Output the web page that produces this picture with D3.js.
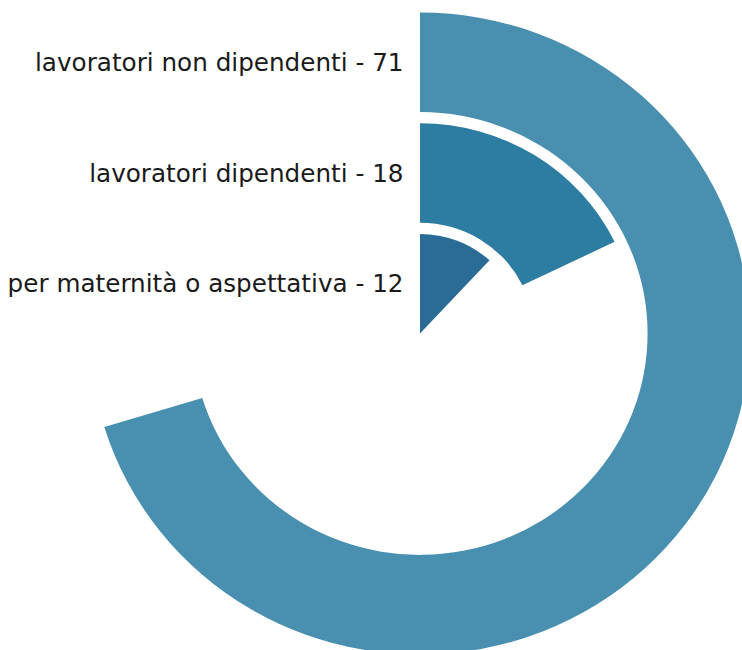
<!DOCTYPE html>
<html>
<head>
<meta charset="utf-8">
<script src="https://cdn.jsdelivr.net/npm/d3@7"></script>
<style>
  html, body { margin: 0; padding: 0; background: #fff; }
  svg { display: block; }
</style>
</head>
<body>
<div id="chart"></div>
<script>
// Radial bar chart - one ring per category, full circle = total
const categories = ["lavoratori non dipendenti", "lavoratori dipendenti", "per maternità o aspettativa"]
const values = [71, 18, 12]
const colors = ["#4990b0", "#2d7ca1", "#2b6c96"]

const width = 742
const height = 650
const cx = 420
const cy = 333.5
const outer = 321
const stretch = 1.028

const svg = d3.select("#chart")
  .append("svg")
  .attr("width", width)
  .attr("height", height)

const g = svg.append("g")
  .attr("transform", `translate(${cx},${cy}) scale(${stretch},1)`)

const total = d3.sum(values)

// outermost ring is the first category
const r = d3.scaleBand()
  .domain(categories.slice().reverse())
  .range([0, outer])
  .paddingInner(0.1)

const angle = d3.scaleLinear()
  .domain([0, total])
  .range([0, 2 * Math.PI])

const arc = d3.arc()
  .innerRadius(d => r(d.cat))
  .outerRadius(d => r(d.cat) + r.bandwidth())
  .startAngle(0)
  .endAngle(d => angle(d.value))

const data = categories.map((cat, i) => ({ cat, value: values[i], color: colors[i] }))

g.selectAll("path.bar")
  .data(data)
  .join("path")
  .attr("class", "bar")
  .attr("d", arc)
  .attr("fill", d => d.color)

// Labels left of the start line
g.selectAll("text.label")
  .data(data)
  .join("text")
  .attr("class", "label")
  .attr("x", -16)
  .attr("y", d => -(r(d.cat) + r.bandwidth() / 2))
  .attr("dy", "0.36em")
  .attr("text-anchor", "end")
  .attr("font-family", "DejaVu Sans, sans-serif")
  .attr("font-size", "24px")
  .attr("fill", "#1a1a1a")
  .text(d => `${d.cat} - ${d.value}`)
</script>
</body>
</html>
